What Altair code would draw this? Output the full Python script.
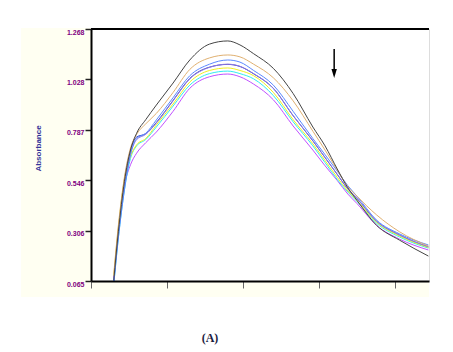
import altair as alt
import pandas as pd

# wavelength grid (nm)
wavelength = [215, 218, 222, 226, 230, 236, 243, 254, 265, 278, 290, 298, 307,
              320, 333, 346, 354, 362, 369, 375, 388, 403, 422]

s_black = [0.07, 0.30, 0.54, 0.69, 0.77, 0.835, 0.905, 1.01, 1.12, 1.196, 1.211, 1.192, 1.15,
           1.08, 0.96, 0.80, 0.71, 0.60, 0.51, 0.45, 0.33, 0.26, 0.184]
s_tan = [0.10, 0.33, 0.56, 0.70, 0.765, 0.815, 0.865, 0.965, 1.075, 1.13, 1.144, 1.135, 1.10,
         1.035, 0.925, 0.78, 0.69, 0.595, 0.515, 0.47, 0.38, 0.30, 0.232]
s_blue = [0.05, 0.27, 0.50, 0.67, 0.745, 0.77, 0.834, 0.94, 1.045, 1.10, 1.12, 1.11, 1.07,
          1.0, 0.875, 0.745, 0.668, 0.59, 0.52, 0.47, 0.355, 0.29, 0.237]
s_darkblue = [0.065, 0.31, 0.55, 0.69, 0.752, 0.768, 0.822, 0.927, 1.032, 1.086, 1.099, 1.089, 1.054,
              0.984, 0.854, 0.734, 0.654, 0.574, 0.504, 0.459, 0.349, 0.284, 0.228]
s_purple = [0.06, 0.29, 0.52, 0.67, 0.74, 0.765, 0.819, 0.925, 1.03, 1.085, 1.10, 1.09, 1.055,
            0.985, 0.855, 0.735, 0.655, 0.575, 0.505, 0.46, 0.35, 0.285, 0.228]
s_yellow = [0.09, 0.32, 0.55, 0.66, 0.715, 0.745, 0.81, 0.91, 1.015, 1.07, 1.082, 1.07, 1.045,
            0.965, 0.835, 0.72, 0.64, 0.56, 0.495, 0.45, 0.345, 0.28, 0.225]
s_cyan = [0.05, 0.27, 0.50, 0.65, 0.71, 0.74, 0.80, 0.90, 1.00, 1.055, 1.067, 1.055, 1.03,
          0.95, 0.825, 0.71, 0.63, 0.55, 0.49, 0.445, 0.34, 0.275, 0.222]
s_violet = [0.08, 0.31, 0.52, 0.62, 0.675, 0.725, 0.776, 0.875, 0.985, 1.04, 1.053, 1.04, 1.005,
            0.93, 0.805, 0.69, 0.615, 0.545, 0.48, 0.435, 0.33, 0.265, 0.213]

series_names = ["darkblue", "violet", "cyan", "yellow", "purple", "blue", "tan", "black"]
series_values = [s_darkblue, s_violet, s_cyan, s_yellow, s_purple, s_blue, s_tan, s_black]
series_colors = ["#3040c8", "#c050ff", "#30eef0", "#f0f020", "#9078e0", "#5a88ff", "#e0b070", "#444444"]

y_ticks = [0.065, 0.306, 0.546, 0.787, 1.028, 1.268]
x_ticks = [200, 250, 300, 350, 400]

arrow_x = [360]
arrow_top = [1.172]
arrow_bottom = [1.072]
arrow_head = [1.056]

rows = []
for i, (name, vals) in enumerate(zip(series_names, series_values)):
    for w, v in zip(wavelength, vals):
        rows.append({"series": name, "order": i, "wl": w, "abs": v})
df = pd.DataFrame(rows)

W, H = 338, 252

xscale = alt.Scale(domain=[200, 422.4], nice=False, zero=False)
yscale = alt.Scale(domain=[0.065, 1.268], nice=False, zero=False)

bg = alt.Chart(pd.DataFrame({"a": [0]})).mark_rect(color="#fffff2").encode(
    x=alt.value(-70), x2=alt.value(W), y=alt.value(-1), y2=alt.value(268))
inner = alt.Chart(pd.DataFrame({"a": [0]})).mark_rect(color="white").encode(
    x=alt.value(0), x2=alt.value(W), y=alt.value(0), y2=alt.value(H))

lines = alt.Chart(df).mark_line(strokeWidth=1, clip=True, interpolate="monotone").encode(
    x=alt.X("wl:Q", scale=xscale,
            axis=alt.Axis(values=x_ticks, labels=False, tickSize=7, tickColor="#666666",
                          tickWidth=1, domainColor="#000000", domainWidth=2, title=None,
                          grid=False, zindex=1)),
    y=alt.Y("abs:Q", scale=yscale,
            axis=alt.Axis(values=y_ticks, format=".3f", labelFont="Liberation Sans",
                          labelFontSize=7, labelFontWeight="bold", labelColor="#800080",
                          labelPadding=1, labelOffset=3,
                          tickSize=6, tickColor="#222222", tickWidth=1.5,
                          domainColor="#000000", domainWidth=2,
                          title="Absorbance", titleFont="Liberation Sans", titleFontSize=8,
                          titleFontWeight="bold", titleColor="#333399",
                          titleX=-53, titleY=119, titleAngle=270, titleAlign="center",
                          titleBaseline="middle", grid=False, zindex=1)),
    color=alt.Color("series:N", scale=alt.Scale(domain=series_names, range=series_colors),
                    legend=None),
    order=alt.Order("order:Q"),
    detail="series:N",
)

top_rule = alt.Chart(pd.DataFrame({"a": [0]})).mark_rule(color="#000000", strokeWidth=2).encode(
    x=alt.value(0), x2=alt.value(W), y=alt.value(0))

arr_df = pd.DataFrame({"x": arrow_x, "y1": arrow_top, "y2": arrow_bottom, "yh": arrow_head})
arrow_line = alt.Chart(arr_df).mark_rule(color="#000000", strokeWidth=1.5).encode(
    x=alt.X("x:Q", scale=xscale), y=alt.Y("y1:Q", scale=yscale), y2="y2:Q")
arrow_tip = alt.Chart(arr_df).mark_point(shape="M-0.6,-1L0.6,-1L0,1Z", filled=True, size=81,
                                         color="#000000", opacity=1).encode(
    x=alt.X("x:Q", scale=xscale), y=alt.Y("yh:Q", scale=yscale))

label = alt.Chart(pd.DataFrame({"t": ["(A)"]})).mark_text(
    font="Liberation Serif", fontSize=12, fontWeight="bold", color="#1a1a40",
    align="center", baseline="middle").encode(
    x=alt.value(119), y=alt.value(309), text="t:N")

chart = alt.layer(bg, inner, lines, top_rule, arrow_line, arrow_tip, label).properties(
    width=W, height=H,
    autosize=alt.AutoSizeParams(type="none"),
    padding={"left": 91, "top": 29, "right": 24, "bottom": 71},
).configure_view(stroke=None).configure(background="white")

chart.save("out.html", embed_options={"renderer": "svg", "actions": False})
